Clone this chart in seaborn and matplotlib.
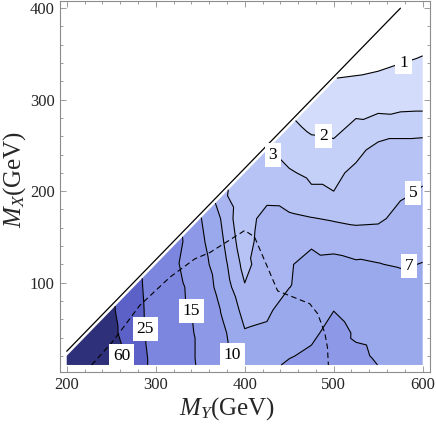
import matplotlib
matplotlib.use("Agg")
import matplotlib.pyplot as plt
import matplotlib.tri as mtri
from matplotlib.ticker import MultipleLocator
import seaborn as sns

# grid of the scan: M_Y columns, M_X rows (only M_X <= M_Y - 180 is filled)
my_cols = [200, 225, 250, 275, 300, 325, 350, 375, 400, 425, 450, 475, 500, 525, 550, 575, 600]
mx_rows = [10, 20, 45, 70, 95, 120, 145, 170, 195, 220, 245, 270, 295, 320, 345, 370, 395, 420]

# values, one list per M_Y column (bottom -> top)
z_by_my = [
    [110, 110],
    [100, 100, 95],
    [87.4, 87, 73.2, 66.7],
    [30.3, 30, 29.8, 29.6, 28.9],
    [22, 22, 21, 20, 19.5, 19],
    [17, 17, 16.5, 16.2, 16, 15.22, 16.23],
    [14.5, 14.4, 14.4, 14.17, 12.75, 11.5, 10.74, 10.2],
    [11.4, 11.2, 10.65, 9.58, 8.29, 7.76, 7.19, 6.7, 5.5],
    [8.9, 8.55, 7.2, 6.13, 5.16, 4.31, 3.59, 3.1, 3.3, 3.6],
    [8.5, 8.3, 7.5, 6.5, 5.8, 6.49, 6.92, 6.65, 3.8, 3.6, 2.95],
    [10.84, 9.6, 8.2, 8.37, 6.95, 6.9, 6.9, 5.5, 3.7, 3.1, 2.6, 2.2],
    [11.3, 11.1, 8.75, 8.6, 8.0, 7.4, 6.8, 5.1, 3.2, 2.8, 2.3, 1.85, 1.5],
    [12, 12, 12.1, 9.9, 8.5, 7.5, 6.4, 4.8, 3.05, 2.8, 2.2, 1.8, 1.5, 1.05],
    [11.5, 10.9, 9.38, 7.8, 8.3, 7.2, 6.2, 4.5, 3.6, 3.2, 2.75, 2.15, 1.75, 1.1, 0.7],
    [9.95, 9.45, 9.0, 8.8, 8.0, 7.05, 6.3, 4.6, 4.3, 3.8, 3.3, 2.45, 1.7, 1.2, 0.75, 0.5],
    [9.5, 9.2, 8.7, 8.4, 7.7, 6.85, 6.2, 5.7, 4.8, 4.1, 3.3, 2.7, 1.65, 1.35, 0.9, 0.6, 0.4],
    [9.2, 9.0, 8.6, 8.2, 7.6, 7.05, 6.5, 5.9, 5.3, 4.6, 3.35, 2.7, 1.7, 1.4, 1.04, 0.7, 0.5, 0.4],
]

levels = [1, 2, 3, 5, 7, 10, 15, 25, 60]
band_colors = ["#ffffff", "#d3ddfb", "#c5d0f8", "#b6c3f4", "#a8b5f0",
               "#9aa8ec", "#8d99e6", "#7c86de", "#5b61c6", "#2f307a"]

# where the contour labels sit
label_my = [579, 488, 432, 588, 586, 390, 338, 293, 265]
label_mx = [339, 254, 240, 199, 112, 23, 69, 50, 20]

# dashed curve
dash_my = [228, 252, 282, 316, 344, 361, 400, 411, 437, 473, 482, 490, 493, 494]
dash_mx = [10, 36, 75, 106, 126, 133, 157, 150, 91, 77, 66, 45, 29, 10]

# kinematic edge M_X = M_Y - 175
edge_my = [200, 575]
edge_mx = [25, 400]

sns.set_style("ticks")
plt.rcParams["font.family"] = ["Liberation Serif", "DejaVu Serif"]
plt.rcParams["mathtext.fontset"] = "custom"
plt.rcParams["mathtext.rm"] = "Liberation Serif"
plt.rcParams["mathtext.it"] = "Liberation Serif:italic"

# points + triangles (cells split along the diagonal parallel to the edge)
px, py, pz = [], [], []
index = {}
for i, (my, col) in enumerate(zip(my_cols, z_by_my)):
    for j, z in enumerate(col):
        index[i, j] = len(pz)
        px.append(my)
        py.append(mx_rows[j])
        pz.append(z)

triangles = []
for (i, j), k in index.items():
    right = index.get((i + 1, j))
    diag = index.get((i + 1, j + 1))
    up = index.get((i, j + 1))
    if right is not None and diag is not None:
        triangles.append([k, right, diag])
    if diag is not None and up is not None:
        triangles.append([k, diag, up])
tri = mtri.Triangulation(px, py, triangles)

fig = plt.figure(figsize=(4.36, 4.24), dpi=100)
ax = fig.add_axes([0.1367, 0.1224, 0.8491, 0.8751])

ax.tricontourf(tri, pz, levels=[0] + levels + [1000], colors=band_colors, antialiased=True)
cs = ax.tricontour(tri, pz, levels=levels, colors="black", linewidths=0.8)

sns.lineplot(x=dash_my, y=dash_mx, sort=False, estimator=None, color="black",
             lw=0.8, linestyle=(0, (5, 3.2)), ax=ax)
sns.lineplot(x=edge_my, y=edge_mx, sort=False, estimator=None, color="black", lw=0.9, ax=ax)

texts = ax.clabel(cs, manual=list(zip(label_my, label_mx)), inline=False, fmt="%d", fontsize=12.5)
for t in texts:
    t.set_rotation(0)
    t.set_bbox(dict(facecolor="white", edgecolor="none", boxstyle="square,pad=0.22"))
    t.set_zorder(5)

ax.set_xlim(192, 608)
ax.set_ylim(2.2, 407.8)
ax.set_xticks([200, 300, 400, 500, 600])
ax.set_yticks([100, 200, 300, 400])
ax.xaxis.set_minor_locator(MultipleLocator(20))
ax.yaxis.set_minor_locator(MultipleLocator(20))
ax.tick_params(which="both", direction="in", top=True, right=True, color="#8c8c8c",
               width=0.6, labelsize=12, pad=3.5)
ax.tick_params(which="major", length=4.5)
ax.tick_params(which="minor", length=2.5)
for s in ax.spines.values():
    s.set_color("#8c8c8c")
    s.set_linewidth(0.8)

ax.set_xlabel(r"$M_Y$(GeV)", fontsize=18)
ax.set_ylabel(r"$M_X$(GeV)", fontsize=18)
ax.xaxis.set_label_coords(0.4535, -0.062)
ax.yaxis.set_label_coords(-0.085, 0.518)

fig.savefig("out.png", dpi=100)
